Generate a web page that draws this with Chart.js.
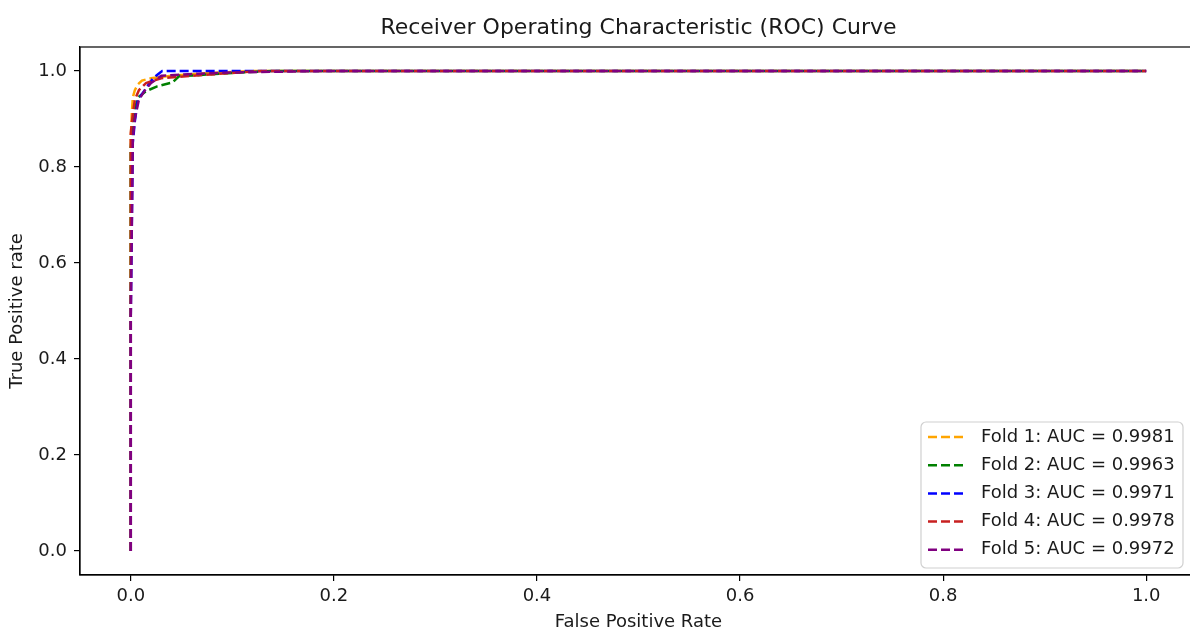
<!DOCTYPE html>
<html>
<head>
<meta charset="utf-8">
<script src="https://cdn.jsdelivr.net/npm/chart.js@4.4.0/dist/chart.umd.min.js"></script>
<style>
    body { margin: 0; overflow: hidden; background: #fff; }
    #wrap { width: 1200px; height: 633px; }
</style>
</head>
<body>
<div id="wrap"><canvas id="rocChart"></canvas></div>
<script>
const foldLabels = ["Fold 1: AUC = 0.9981", "Fold 2: AUC = 0.9963", "Fold 3: AUC = 0.9971", "Fold 4: AUC = 0.9978", "Fold 5: AUC = 0.9972"]
const foldColors = ["#ffa500", "#008000", "#0000ff", "#c82020", "#800080"]

const fold1Fpr = [0, 0, 0.001, 0.002, 0.004, 0.007, 0.011, 0.02, 0.04, 0.07, 0.12, 1]
const fold1Tpr = [0, 0.86, 0.91, 0.945, 0.96, 0.972, 0.98, 0.985, 0.99, 0.995, 1, 1]

const fold2Fpr = [0, 0, 0.002, 0.004, 0.007, 0.015, 0.026, 0.041, 0.048, 0.065, 0.078, 0.1, 0.14, 1]
const fold2Tpr = [0, 0.84, 0.89, 0.92, 0.945, 0.958, 0.968, 0.976, 0.99, 0.991, 0.993, 0.996, 1, 1]

const fold3Fpr = [0, 0, 0.002, 0.004, 0.007, 0.016, 0.022, 0.029, 0.031, 1]
const fold3Tpr = [0, 0.49, 0.85, 0.895, 0.94, 0.967, 0.985, 0.997, 1, 1]

const fold4Fpr = [0, 0, 0.002, 0.004, 0.008, 0.015, 0.03, 0.06, 0.1, 0.13, 1]
const fold4Tpr = [0, 0.87, 0.91, 0.94, 0.96, 0.975, 0.985, 0.99, 0.996, 1, 1]

const fold5Fpr = [0, 0, 0.002, 0.004, 0.008, 0.014, 0.02, 0.03, 0.06, 0.1, 0.19, 1]
const fold5Tpr = [0, 0.49, 0.86, 0.9, 0.94, 0.96, 0.975, 0.99, 0.994, 0.997, 1, 1]

const xTicks = [0, 0.2, 0.4, 0.6, 0.8, 1.0]
const yTicks = [0, 0.2, 0.4, 0.6, 0.8, 1.0]

const allFpr = [fold1Fpr, fold2Fpr, fold3Fpr, fold4Fpr, fold5Fpr]
const allTpr = [fold1Tpr, fold2Tpr, fold3Tpr, fold4Tpr, fold5Tpr]

const lineDash = [9, 4]

const datasets = allFpr.map((fpr, i) => ({
    label: foldLabels[i],
    data: fpr.map((x, j) => ({ x: x, y: allTpr[i][j] })),
    borderColor: foldColors[i],
    backgroundColor: foldColors[i],
    borderWidth: 2.5,
    borderDash: lineDash,
    pointRadius: 0,
    tension: 0,
    order: 5 - i
}))

// full box around the plot, like matplotlib spines
const boxPlugin = {
    id: "box",
    afterDatasetsDraw(chart) {
        const { ctx, chartArea: a } = chart
        ctx.save()
        ctx.strokeStyle = "#000"
        ctx.lineWidth = 1.2
        ctx.strokeRect(a.left, a.top, a.right - a.left, a.bottom - a.top)
        ctx.restore()
    }
}

// legend in lower right, inside the axes
const insideLegend = {
    id: "insideLegend",
    afterDraw(chart) {
        const { ctx, chartArea: a } = chart
        const w = 262, h = 146
        const x0 = a.right - 14 - w, y0 = a.bottom - 7 - h
        ctx.save()
        ctx.beginPath()
        ctx.roundRect(x0, y0, w, h, 5)
        ctx.fillStyle = "rgba(255,255,255,0.8)"
        ctx.fill()
        ctx.strokeStyle = "#d0d0d0"
        ctx.lineWidth = 1.2
        ctx.stroke()
        ctx.font = "18px 'DejaVu Sans'"
        ctx.textBaseline = "middle"
        chart.data.datasets.forEach((ds, i) => {
            const y = y0 + 15 + i * 28.2
            ctx.beginPath()
            ctx.setLineDash(lineDash)
            ctx.strokeStyle = ds.borderColor
            ctx.lineWidth = 2.5
            ctx.moveTo(x0 + 7, y)
            ctx.lineTo(x0 + 45, y)
            ctx.stroke()
            ctx.setLineDash([])
            ctx.fillStyle = "#1a1a1a"
            ctx.fillText(ds.label, x0 + 60, y)
        })
        ctx.restore()
    }
}

const tickFont = { family: "DejaVu Sans", size: 18 }

const options = {
    responsive: true,
    maintainAspectRatio: false,
    animation: false,
    layout: { padding: { left: 0, right: 3, top: 0, bottom: 0 } },
    scales: {
        x: {
            type: "linear",
            min: -0.05,
            max: 1.05,
            afterBuildTicks: scale => { scale.ticks = xTicks.map(v => ({ value: v })) },
            afterFit: scale => { scale.height = 58 },
            grid: { drawOnChartArea: false, drawTicks: true, tickLength: 6, color: "#000", lineWidth: 1.2 },
            border: { display: true, color: "#000", width: 1.2 },
            ticks: {
                color: "#1a1a1a",
                padding: 5,
                maxRotation: 0,
                font: tickFont,
                callback: v => v.toFixed(1)
            },
            title: {
                display: true,
                text: "False Positive Rate",
                color: "#1a1a1a",
                font: tickFont,
                padding: { top: 0, bottom: 0 }
            }
        },
        // empty top axis: only carries the chart title, centred over the plot
        top: {
            axis: "x",
            type: "linear",
            position: "top",
            min: -0.05,
            max: 1.05,
            afterFit: scale => { scale.height = 47 },
            grid: { display: false },
            border: { display: false },
            ticks: { display: false },
            title: {
                display: true,
                text: "Receiver Operating Characteristic (ROC) Curve",
                color: "#1a1a1a",
                font: { family: "DejaVu Sans", size: 22 },
                padding: { top: 15, bottom: 0 }
            }
        },
        y: {
            type: "linear",
            min: -0.05,
            max: 1.05,
            afterBuildTicks: scale => { scale.ticks = yTicks.map(v => ({ value: v })) },
            afterFit: scale => { scale.width = 80 },
            grid: { drawOnChartArea: false, drawTicks: true, tickLength: 6, color: "#000", lineWidth: 1.2 },
            border: { display: true, color: "#000", width: 1.2 },
            ticks: {
                color: "#1a1a1a",
                padding: 7,
                font: tickFont,
                callback: v => v.toFixed(1)
            },
            title: {
                display: true,
                text: "True Positive rate",
                color: "#1a1a1a",
                font: tickFont,
                padding: { top: 7, bottom: 0 }
            }
        }
    },
    plugins: {
        legend: { display: false },
        tooltip: { enabled: false },
        title: { display: false }
    }
}

const ctx = document.getElementById("rocChart").getContext("2d")
new Chart(ctx, { type: "line", data: { datasets: datasets }, options: options, plugins: [boxPlugin, insideLegend] })
</script>
</body>
</html>
